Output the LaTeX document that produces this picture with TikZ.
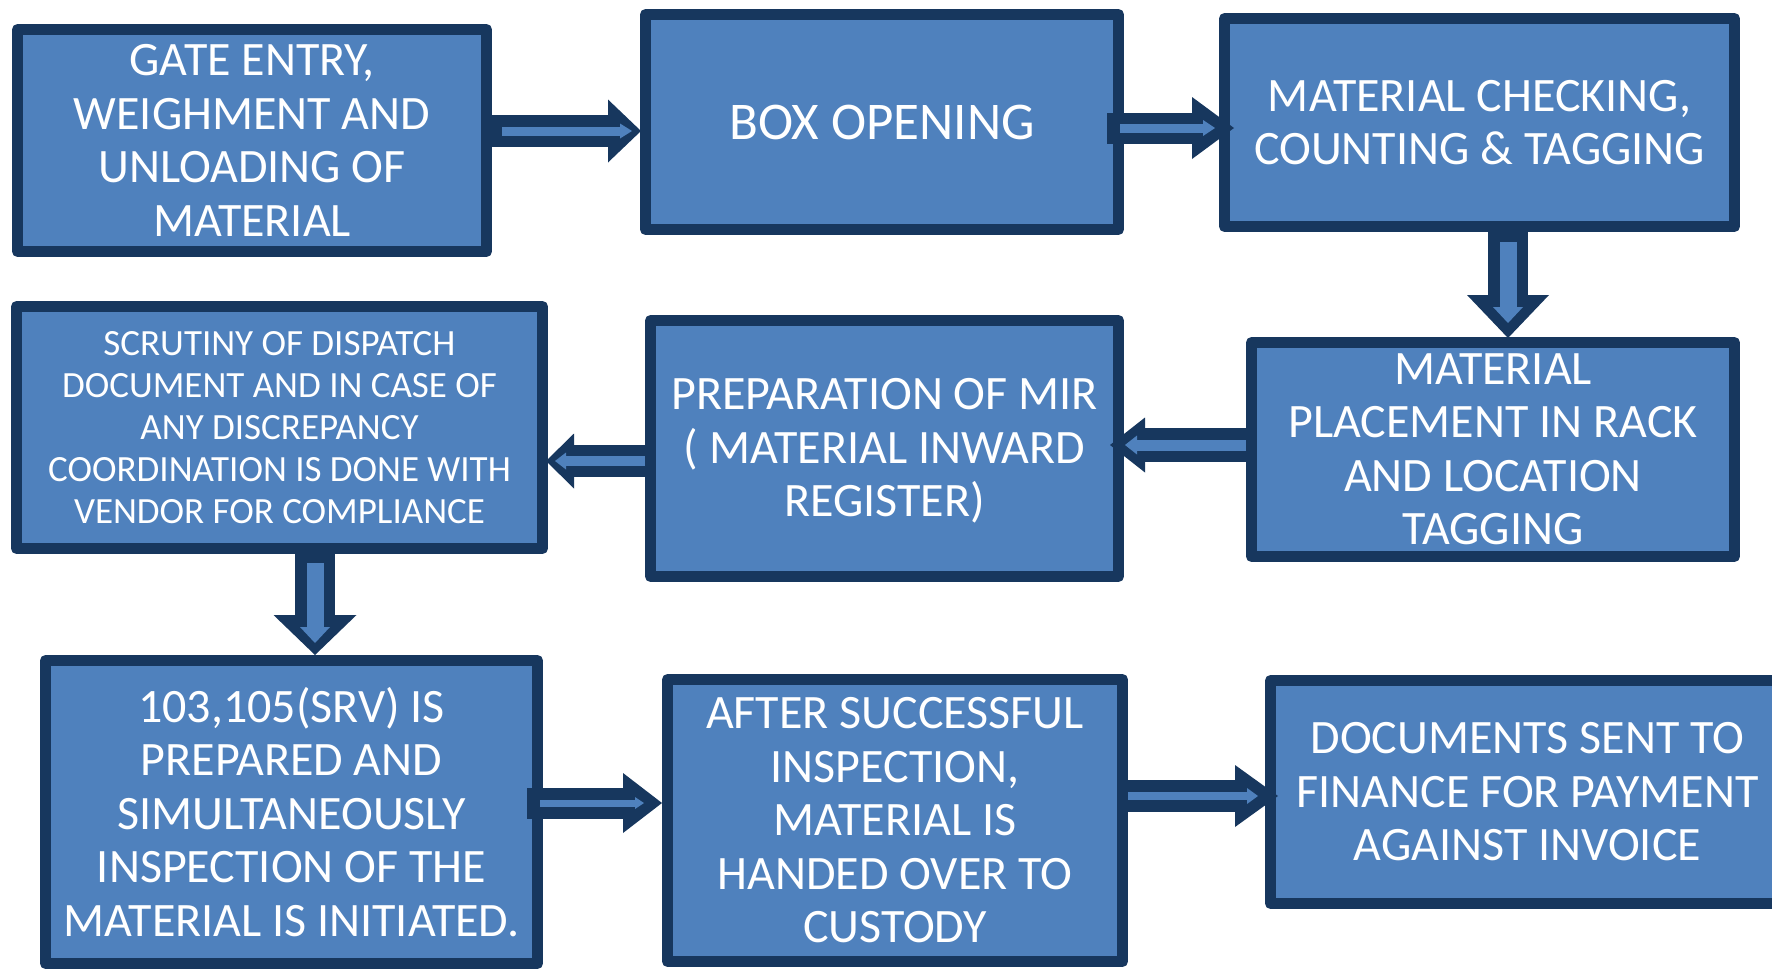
\documentclass[tikz,border=0pt]{standalone}
\usepackage{fontspec}
\setmainfont{Carlito}
\usetikzlibrary{arrows.meta}
\definecolor{navy}{HTML}{17375E}
\definecolor{steel}{HTML}{4F81BD}
\tikzset{
  box/.style={draw=navy, fill=steel, line width=11pt, line join=round, text=white,
    align=center, inner sep=0pt, outer sep=0pt, font=\fontsize{48}{53.5}\selectfont},
  outerarr/.style n args={3}{draw=navy, line width=#1, line cap=butt,
    -{Triangle[width=#2, length=#3, line width=0pt]}},
  innerarr/.style n args={3}{draw=steel, line width=#1, line cap=butt,
    -{Triangle[width=#2, length=#3, line width=0pt]}},
}
\begin{document}
\begin{tikzpicture}[x=1pt, y=-1pt]
\useasboundingbox (0,0) rectangle (1772,969);
\clip (0,0) rectangle (1772,969);
\fill[white] (0,0) rectangle (1772,969);

% boxes
\node[box, minimum width=469pt, minimum height=222pt] (b1) at (252,140.5)
  {GATE ENTRY,\\WEIGHMENT AND\\UNLOADING OF\\MATERIAL};
\node[box, minimum width=473pt, minimum height=215pt, font=\fontsize{53}{58}\selectfont] (b2) at (882,122)
  {BOX OPENING};
\node[box, minimum width=510pt, minimum height=208pt] (b3) at (1479.5,122.5)
  {MATERIAL CHECKING,\\COUNTING \& TAGGING};
\node[box, minimum width=483pt, minimum height=214pt] (b4) at (1493,449.5)
  {MATERIAL\\PLACEMENT IN RACK\\AND LOCATION\\TAGGING};
\node[box, minimum width=468pt, minimum height=256pt] (b5) at (884.5,448.5)
  {\raisebox{-4pt}[\height][\depth]{\begin{tabular}{@{}c@{}}PREPARATION OF MIR\\( MATERIAL INWARD\\REGISTER)\end{tabular}}};
\node[box, minimum width=526pt, minimum height=242pt, font=\fontsize{37}{42}\selectfont] (b6) at (279.5,427.5)
  {SCRUTINY OF DISPATCH\\DOCUMENT AND IN CASE OF\\ANY DISCREPANCY\\COORDINATION IS DONE WITH\\VENDOR FOR COMPLIANCE};
\node[box, minimum width=492pt, minimum height=303pt] (b7) at (291.5,812)
  {103,105(SRV) IS\\PREPARED AND\\SIMULTANEOUSLY\\INSPECTION OF THE\\MATERIAL IS INITIATED.};
\node[box, minimum width=455pt, minimum height=282pt] (b8) at (895,820.5)
  {AFTER SUCCESSFUL\\INSPECTION,\\MATERIAL IS\\HANDED OVER TO\\CUSTODY};
\node[box, minimum width=514pt, minimum height=223pt] (b9) at (1527.5,792)
  {DOCUMENTS SENT TO\\FINANCE FOR PAYMENT\\AGAINST INVOICE};

% reference lines for arrows
\coordinate (a1) at (0,131);
\coordinate (a2) at (0,128);
\coordinate (a3) at (1508,0);
\coordinate (a4) at (0,445);
\coordinate (a5) at (0,461);
\coordinate (a6) at (315,0);
\coordinate (a7) at (0,803);
\coordinate (a8) at (0,796);

% A1
\draw[outerarr={32pt}{63pt}{33pt}, shorten >=4.5pt] (b1.east |- a1) -- (b2.west |- a1);
\draw[innerarr={9pt}{15pt}{12pt}, shorten <=15.5pt, shorten >=13.5pt] (b1.east |- a1) -- (b2.west |- a1);
% A2
\draw[outerarr={31pt}{62pt}{42pt}, shorten <=-11.5pt, shorten >=-9.5pt] (b2.east |- a2) -- (b3.west |- a2);
\draw[innerarr={9pt}{16pt}{12pt}, shorten <=1.5pt, shorten >=9.5pt] (b2.east |- a2) -- (b3.west |- a2);
% A3
\draw[outerarr={40pt}{82pt}{43pt}, shorten >=4.5pt] (a3 |- b3.south) -- (a3 |- b4.north);
\draw[innerarr={17pt}{30pt}{16pt}, shorten <=15.5pt, shorten >=19.5pt] (a3 |- b3.south) -- (a3 |- b4.north);
% A4
\draw[outerarr={34pt}{55pt}{35pt}, shorten >=-8.5pt] (b4.west |- a4) -- (b5.east |- a4);
\draw[innerarr={11pt}{19pt}{12pt}, shorten <=5.5pt, shorten >=6.5pt] (b4.west |- a4) -- (b5.east |- a4);
% A5
\draw[outerarr={32pt}{55pt}{28pt}, shorten >=3.5pt] (b5.west |- a5) -- (b6.east |- a5);
\draw[innerarr={10pt}{17pt}{11pt}, shorten <=5.5pt, shorten >=12.5pt] (b5.west |- a5) -- (b6.east |- a5);
% A6
\draw[outerarr={40pt}{83pt}{40pt}, shorten >=5.5pt] (a6 |- b6.south) -- (a6 |- b7.north);
\draw[innerarr={17pt}{30pt}{16pt}, shorten <=14.5pt, shorten >=17.5pt] (a6 |- b6.south) -- (a6 |- b7.north);
% A7
\draw[outerarr={31pt}{60pt}{39pt}, shorten <=-10.5pt, shorten >=5.5pt] (b7.east |- a7) -- (b8.west |- a7);
\draw[innerarr={7pt}{12pt}{9pt}, shorten <=2.5pt, shorten >=23.5pt] (b7.east |- a7) -- (b8.west |- a7);
% A8
\draw[outerarr={32pt}{62pt}{43pt}, shorten >=-7.5pt] (b8.east |- a8) -- (b9.west |- a8);
\draw[innerarr={8pt}{16pt}{11pt}, shorten <=5.5pt, shorten >=12.5pt] (b8.east |- a8) -- (b9.west |- a8);
\end{tikzpicture}
\end{document}
